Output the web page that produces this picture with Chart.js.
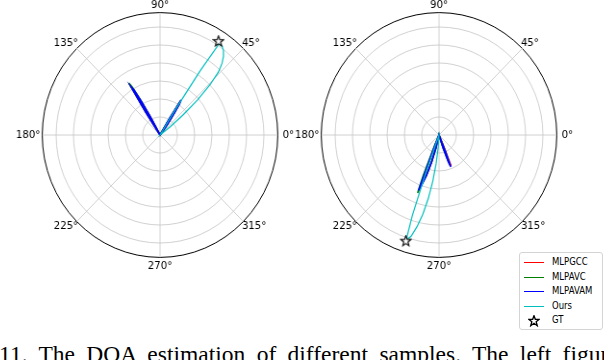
<!DOCTYPE html>
<html>
<head>
<meta charset="utf-8">
<script src="https://cdn.jsdelivr.net/npm/chart.js"></script>
<style>
body{margin:0;background:#fff;width:604px;height:360px;overflow:hidden;position:relative;font-family:"DejaVu Sans",sans-serif}
.plot{position:absolute;top:-1px;width:340px;height:276px;transform:scaleX(0.962);transform-origin:170px 0}
#legend{position:absolute;left:519px;top:252px;width:82px;height:76px;border:1px solid #d4d4d4;border-radius:3px;background:#fff;font-size:10px;color:#000}
.row{position:absolute;left:0;width:82px;height:14px;line-height:14px}
.row .h{position:absolute;left:4px;top:7px;width:20px;height:0;border-top:1.6px solid}
.row svg{position:absolute;left:8px;top:2px}
.row span{position:absolute;left:32px;top:0;transform:scaleX(0.85);transform-origin:0 0;white-space:nowrap}
#caption{position:absolute;left:-1px;top:342px;font:23.5px/24px "Liberation Serif",serif;word-spacing:5.5px;white-space:nowrap;color:#000}
</style>
</head>
<body>
<canvas id="leftPolar" class="plot" width="340" height="276" style="left:-10px"></canvas>
<canvas id="rightPolar" class="plot" width="340" height="276" style="left:269px"></canvas>
<div id="legend"></div>
<div id="caption">11. The DOA estimation of different samples. The left figure</div>
<script>
// series names / colours (matplotlib r, g, b, c)
const seriesNames = ['MLPGCC', 'MLPAVC', 'MLPAVAM', 'Ours'];
const seriesColors = ['#ff0000', '#008000', '#0000ff', '#00bfbf'];
const gtName = 'GT';

// angular categories, one per degree, 0 deg on the right, counter-clockwise
const angleLabels = [];
for (let i = 0; i < 360; i++) angleLabels.push((360 - i) % 360);

// radial rings (hidden tick labels) and outer edge
const ringTicks = [0, 0.2, 0.4, 0.6, 0.8, 1.0, 1.2, 1.36];
const rMax = 1.36;

// ---- left figure: degree / radius of the points around each peak ----
const gccLeftDeg  = [52, 54, 56, 57, 58, 59, 60, 117, 119, 120, 121, 122, 123, 124];
const gccLeftR    = [0, 0.15, 0.3, 0.4, 0.45, 0.2, 0, 0, 0.2, 0.4, 0.55, 0.6, 0.3, 0];
const avcLeftDeg  = [52, 54, 56, 57, 58, 59, 60, 117, 119, 120, 121, 122, 123, 124];
const avcLeftR    = [0, 0.14, 0.28, 0.38, 0.43, 0.18, 0, 0, 0.25, 0.45, 0.62, 0.68, 0.3, 0];
const avamLeftDeg = [52, 54, 56, 57, 58, 59, 60, 117, 119, 120, 121, 122, 123, 124];
const avamLeftR   = [0, 0.15, 0.3, 0.41, 0.46, 0.22, 0, 0, 0.22, 0.42, 0.58, 0.63, 0.32, 0];
const oursLeftDeg = [36, 38, 40, 42, 44, 46, 48, 50, 52, 54, 56, 57, 58, 59];
const oursLeftR   = [0, 0.15, 0.35, 0.58, 0.8, 0.97, 1.07, 1.14, 1.19, 1.22, 1.23, 0.85, 0.3, 0];
const gtLeftDeg   = [57];
const gtLeftR     = [1.24];

// ---- right figure ----
const gccRightDeg  = [247, 248, 249, 250, 252, 254, 256, 258, 287, 289, 291, 292, 293, 294];
const gccRightR    = [0, 0.2, 0.63, 0.57, 0.46, 0.31, 0.15, 0, 0, 0.15, 0.3, 0.37, 0.15, 0];
const avcRightDeg  = [246, 247, 248, 249, 250, 252, 254, 256, 258, 286, 288, 290, 291, 292, 293];
const avcRightR    = [0, 0.15, 0.5, 0.69, 0.6, 0.47, 0.3, 0.14, 0, 0, 0.14, 0.3, 0.36, 0.18, 0];
const avamRightDeg = [247, 248, 249, 250, 252, 254, 256, 258, 286, 288, 290, 291, 292, 293];
const avamRightR   = [0, 0.2, 0.66, 0.6, 0.48, 0.32, 0.15, 0, 0, 0.15, 0.32, 0.38, 0.2, 0];
const oursRightDeg = [249, 250, 251, 252, 254, 256, 258, 260, 262, 264, 266, 268];
const oursRightR   = [0, 0.45, 0.95, 1.23, 1.17, 1.05, 0.9, 0.72, 0.52, 0.32, 0.14, 0];
const gtRightDeg   = [252];
const gtRightR     = [1.24];

function toSeries(deg, r) {
  const out = new Array(360).fill(null);
  deg.forEach((d, k) => { out[(360 - d) % 360] = r[k]; });
  return out;
}

function starImage(size) {
  const c = document.createElement('canvas');
  c.width = c.height = size;
  const g = c.getContext('2d');
  const R = size / 2 - 1, r = R * 0.42, m = size / 2;
  g.beginPath();
  for (let k = 0; k < 10; k++) {
    const a = -Math.PI / 2 + k * Math.PI / 5;
    const rad = k % 2 ? r : R;
    g.lineTo(m + rad * Math.cos(a), m + rad * Math.sin(a));
  }
  g.closePath();
  g.fillStyle = '#fff'; g.fill();
  g.strokeStyle = '#000'; g.lineWidth = 1.1; g.stroke();
  return c;
}
const star = starImage(13);

function makePolar(id, lines, gt) {
  const datasets = lines.map((l, k) => ({
    label: seriesNames[k],
    data: toSeries(l[0], l[1]),
    borderColor: seriesColors[k],
    borderWidth: k === 3 ? 1.2 : 1.6,
    pointRadius: 0,
    spanGaps: true,
    fill: false,
    order: 4 - k
  }));
  datasets.push({
    label: gtName,
    data: toSeries(gt[0], gt[1]),
    borderColor: 'rgba(0,0,0,0)',
    borderWidth: 0,
    showLine: false,
    pointStyle: star,
    pointRadius: 5,
    order: 0
  });

  var ctx = document.getElementById(id);
  new Chart(ctx, {
    type: 'radar',
    data: { labels: angleLabels, datasets: datasets },
    options: {
      responsive: false,
      animation: false,
      devicePixelRatio: 1,
      plugins: { legend: { display: false }, tooltip: { enabled: false } },
      elements: { line: { tension: 0 } },
      scales: {
        r: {
          min: 0,
          max: rMax,
          startAngle: 90,
          afterBuildTicks: s => { s.ticks = ringTicks.map(v => ({ value: v })); },
          ticks: { display: false },
          grid: {
            circular: true,
            color: c => (c.tick && c.tick.value >= rMax) ? '#000' : '#c4c4c4',
            lineWidth: c => (c.tick && c.tick.value >= rMax) ? 1 : 0.8
          },
          angleLines: {
            color: '#c4c4c4',
            lineWidth: c => (c.index % 45 === 0) ? 0.8 : 0
          },
          pointLabels: {
            color: '#000',
            font: { family: 'DejaVu Sans', size: 10.5, lineHeight: 1.2 },
            padding: c => {
              const d = (360 - c.index) % 360;
              if (d === 0) return 5;
              if (d === 180) return 2;
              if (d === 90) return 1;
              if (d === 270) return 3;
              if (d % 45 === 0) return -2;
              return 0;
            },
            callback: l => (l % 45 === 0) ? l + '°' : ''
          }
        }
      }
    }
  });
}

makePolar('leftPolar',
  [[gccLeftDeg, gccLeftR], [avcLeftDeg, avcLeftR], [avamLeftDeg, avamLeftR], [oursLeftDeg, oursLeftR]],
  [gtLeftDeg, gtLeftR]);
makePolar('rightPolar',
  [[gccRightDeg, gccRightR], [avcRightDeg, avcRightR], [avamRightDeg, avamRightR], [oursRightDeg, oursRightR]],
  [gtRightDeg, gtRightR]);

// legend box
const legend = document.getElementById('legend');
seriesNames.concat([gtName]).forEach((name, k) => {
  const row = document.createElement('div');
  row.className = 'row';
  row.style.top = (2 + k * 14.5) + 'px';
  if (k < seriesNames.length) {
    row.innerHTML = '<div class="h" style="border-color:' + seriesColors[k] + '"></div>';
  } else {
    row.innerHTML = '<svg width="12" height="12" viewBox="0 0 10 10"><polygon points="5,0.6 6.1,3.6 9.4,3.6 6.8,5.6 7.7,8.9 5,6.9 2.3,8.9 3.2,5.6 0.6,3.6 3.9,3.6" fill="#fff" stroke="#000" stroke-width="1.1"/></svg>';
  }
  const t = document.createElement('span');
  t.textContent = name;
  row.appendChild(t);
  legend.appendChild(row);
});
</script>
</body>
</html>
